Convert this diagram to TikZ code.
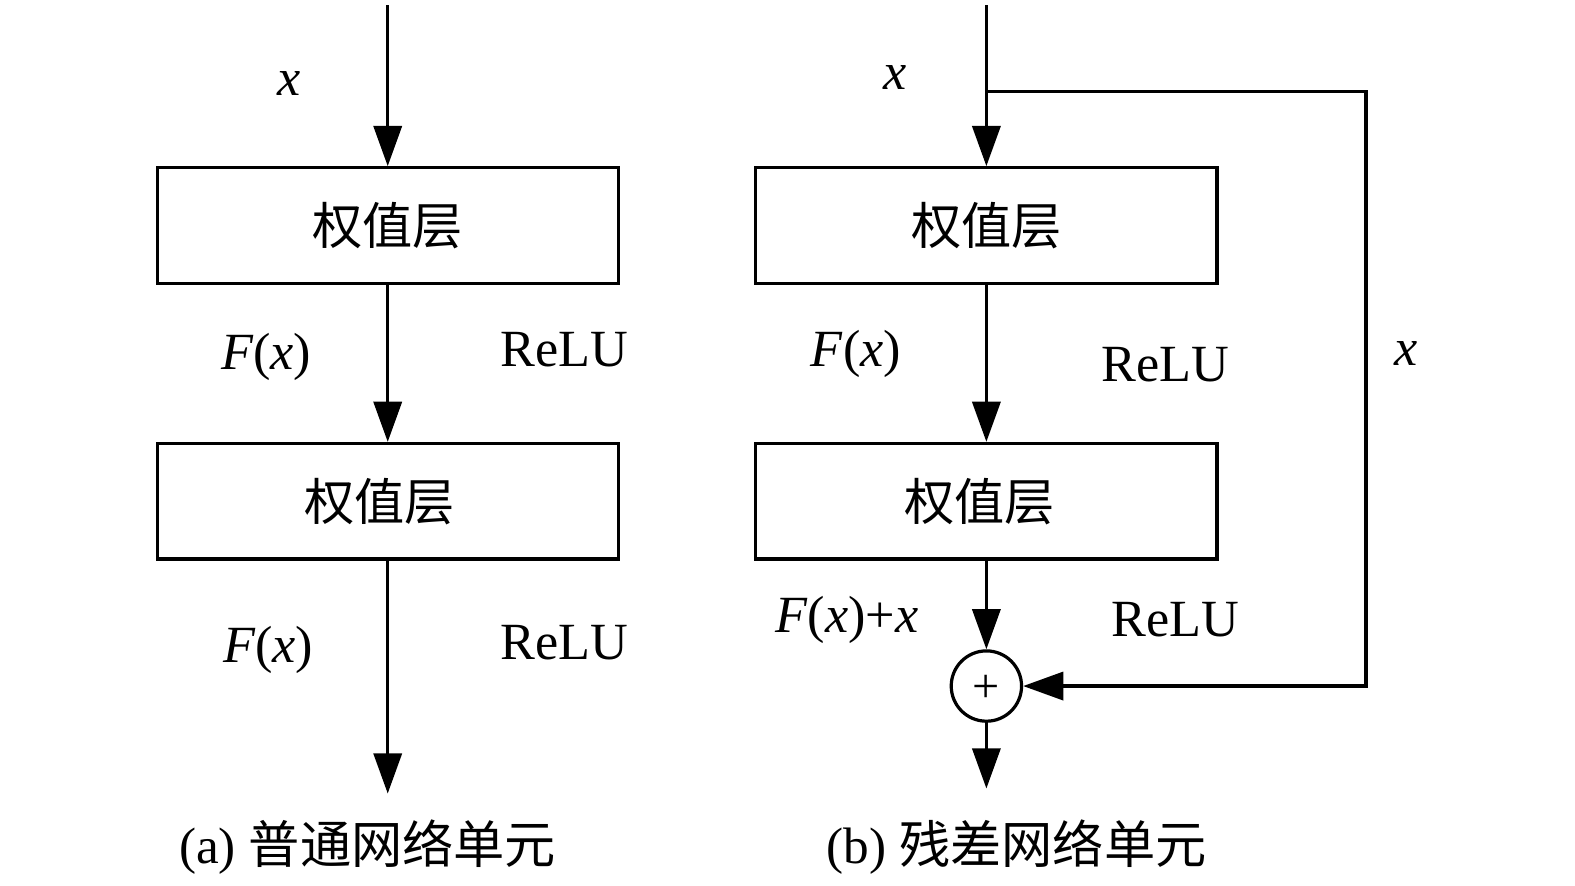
\documentclass[tikz,border=0pt]{standalone}
\usepackage{fontspec}
\setmainfont{Liberation Serif}
\newfontfamily\cjk{Noto Sans CJK SC}
\usetikzlibrary{arrows.meta}

\tikzset{
  wbox/.style={draw, line width=1.6pt, minimum width=229.5pt, minimum height=57.5pt,
    inner sep=0pt, font=\cjk\fontsize{25}{30}\selectfont},
  lbl/.style={inner sep=0pt, font=\fontsize{26}{30}\selectfont},
  capt/.style={inner sep=0pt, font=\fontsize{25.5}{30}\selectfont},
  flow/.style={line width=1.6pt, -{Triangle[length=20pt,width=14pt]}},
  sumnode/.style={draw, circle, line width=1.6pt, minimum size=35pt, inner sep=0pt,
    font=\fontsize{24}{28}\selectfont},
}

\begin{document}
\begin{tikzpicture}[x=0.5pt,y=-0.5pt]
\useasboundingbox (0,0) rectangle (1568,882);

% (a) plain unit
\coordinate (inA) at (386,5);
\node[wbox] (wa1) at (386,224.5) {权值层};
\node[wbox] (wa2) at (386,499) {权值层\hspace*{8pt}};
\coordinate (outA) at (386,790);
\draw[flow] (inA) -- (wa1);
\draw[flow] (wa1) -- (wa2);
\draw[flow] (wa2) -- (outA);
\node[lbl] (xa) at (288,83) {\textit{x}};
\node[lbl] (fa1) at (265,355) {\textit{F}(\textit{x})};
\node[lbl] (ra1) at (562,348) {ReLU};
\node[lbl] (fa2) at (267,647) {\textit{F}(\textit{x})};
\node[lbl] (ra2) at (562,640) {ReLU};
\node[capt] (capa) at (366,843) {(a) {\cjk 普通网络单元}};

% (b) residual unit
\coordinate (inB) at (982,5);
\coordinate (br) at (982,91);
\coordinate (rc) at (1360,91);
\node[wbox] (wb1) at (982,224.5) {权值层};
\node[wbox] (wb2) at (982,499) {权值层\hspace*{7pt}};
\node[sumnode] (sum) at (982,683) {\raisebox{-1.5pt}[\height][\depth]{+}};
\coordinate (outB) at (982,785);
\draw[flow] (inB) -- (wb1);
\draw[flow] (wb1) -- (wb2);
\draw[flow] (wb2) -- (sum);
\draw[flow] (sum) -- (outB);
\draw[flow] (br) -- (rc) |- (sum);
\node[lbl] (xb) at (891,77) {\textit{x}};
\node[lbl] (xs) at (1400,352) {\textit{x}};
\node[lbl] (fb1) at (852,352) {\textit{F}(\textit{x})};
\node[lbl] (rb1) at (1160,363) {ReLU};
\node[lbl] (fb2) at (843,617) {\textit{F}(\textit{x})+\textit{x}};
\node[lbl] (rb2) at (1170,617) {ReLU};
\node[capt] (capb) at (1012,843) {(b) {\cjk 残差网络单元}};
\end{tikzpicture}
\end{document}
